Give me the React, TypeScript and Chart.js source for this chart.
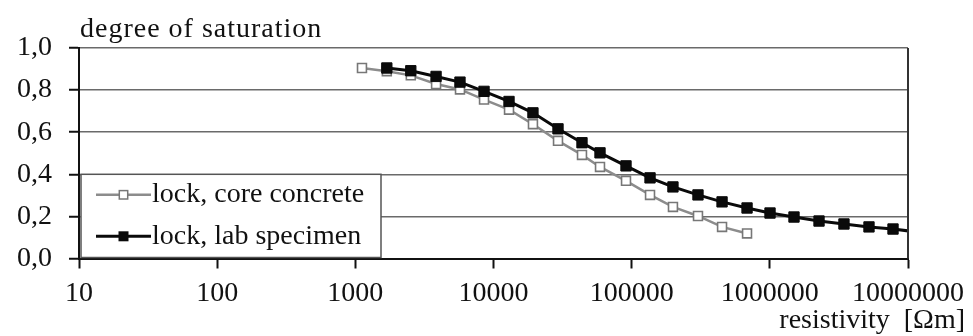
import React, { useEffect, useRef } from 'react';
import { Chart, registerables } from 'chart.js';

Chart.register(...registerables);

// ---- data ----
const xTickValues = [10, 100, 1000, 10000, 100000, 1000000, 10000000];
const yTickValues = [0, 0.2, 0.4, 0.6, 0.8, 1.0];

const seriesNames = ['lock, core concrete', 'lock, lab specimen'];

const coreResistivity = [1117, 1690, 2520, 3840, 5720, 8540, 12950, 19300, 29300, 43700, 59000, 91000, 135800, 199000, 302000, 451000, 684000];
const coreSaturation = [0.905, 0.89, 0.87, 0.829, 0.803, 0.755, 0.707, 0.638, 0.559, 0.492, 0.435, 0.369, 0.302, 0.245, 0.202, 0.15, 0.119];

const labResistivity = [1690, 2520, 3840, 5720, 8540, 12950, 19300, 29300, 43700, 59000, 91000, 135800, 199000, 302000, 451000, 684000, 1003000, 1496000, 2270000, 3440000, 5220000, 7790000, 11600000];
const labSaturation = [0.905, 0.892, 0.865, 0.838, 0.794, 0.746, 0.692, 0.616, 0.55, 0.502, 0.44, 0.383, 0.34, 0.302, 0.269, 0.24, 0.216, 0.197, 0.178, 0.164, 0.15, 0.14, 0.126];

const yAxisTitle = 'degree of saturation';
const xAxisTitle = 'resistivity  [Ωm]';

const FONT = '"Liberation Serif", "Times New Roman", serif';
const TEXT = '#111';
const CORE_LINE = '#8c8c8c';
const CORE_MARK = '#777';
const LAB = '#0a0a0a';

const decorPlugin = {
  id: 'decor',
  afterDraw(chart: any) {
    const { ctx, chartArea: a, scales } = chart;
    const ys = scales.y;
    ctx.save();
    // right frame line
    ctx.strokeStyle = '#333';
    ctx.lineWidth = 2;
    ctx.beginPath();
    ctx.moveTo(a.right, a.top);
    ctx.lineTo(a.right, a.bottom);
    ctx.stroke();

    // axis titles
    ctx.fillStyle = TEXT;
    ctx.font = `28px ${FONT}`;
    ctx.textBaseline = 'alphabetic';
    ctx.textAlign = 'left';
    (ctx as any).letterSpacing = '1px';
    ctx.fillText(yAxisTitle, a.left + 1, a.top - 11);
    (ctx as any).letterSpacing = '0px';
    ctx.textAlign = 'right';
    ctx.fillText(xAxisTitle, chart.width - 8, chart.height - 8);

    // legend box
    const boxTop = ys.getPixelForValue(0.4);
    const boxLeft = a.left + 2;
    const boxRight = a.left + 302;
    const boxBottom = a.bottom - 1;
    ctx.fillStyle = '#fff';
    ctx.fillRect(boxLeft, boxTop, boxRight - boxLeft, boxBottom - boxTop);
    ctx.strokeStyle = '#555';
    ctx.lineWidth = 1.5;
    ctx.strokeRect(boxLeft, boxTop, boxRight - boxLeft, boxBottom - boxTop);

    const rows = [boxTop + 20.5, boxTop + 62];
    const x0 = a.left + 17;
    const x1 = a.left + 72;
    const mx = (x0 + x1) / 2;
    // row 1: core concrete
    ctx.strokeStyle = CORE_LINE;
    ctx.lineWidth = 2.5;
    ctx.beginPath();
    ctx.moveTo(x0, rows[0]);
    ctx.lineTo(x1, rows[0]);
    ctx.stroke();
    ctx.fillStyle = '#fff';
    ctx.fillRect(mx - 4.2, rows[0] - 4.2, 8.4, 8.4);
    ctx.strokeStyle = CORE_MARK;
    ctx.lineWidth = 1.5;
    ctx.strokeRect(mx - 4.2, rows[0] - 4.2, 8.4, 8.4);
    // row 2: lab specimen
    ctx.strokeStyle = LAB;
    ctx.lineWidth = 3;
    ctx.beginPath();
    ctx.moveTo(x0, rows[1]);
    ctx.lineTo(x1, rows[1]);
    ctx.stroke();
    ctx.fillStyle = LAB;
    ctx.fillRect(mx - 5, rows[1] - 5, 10, 10);

    ctx.fillStyle = TEXT;
    ctx.font = `28px ${FONT}`;
    ctx.textAlign = 'left';
    ctx.textBaseline = 'middle';
    ctx.fillText(seriesNames[0], x1 + 1, rows[0]);
    ctx.fillText(seriesNames[1], x1 + 1, rows[1]);
    ctx.restore();
  },
};

export default function App() {
  const ref = useRef<HTMLCanvasElement | null>(null);

  useEffect(() => {
    if (!ref.current) return;
    const chart = new Chart(ref.current, {
      type: 'line',
      data: {
        datasets: [
          {
            label: seriesNames[0],
            data: coreResistivity.map((x, i) => ({ x, y: coreSaturation[i] })),
            borderColor: CORE_LINE,
            borderWidth: 2.5,
            pointStyle: 'rect',
            pointRadius: 6.3,
            pointBackgroundColor: '#fff',
            pointBorderColor: CORE_MARK,
            pointBorderWidth: 1.6,
            tension: 0,
            order: 2,
            clip: 0,
          },
          {
            label: seriesNames[1],
            data: labResistivity.map((x, i) => ({ x, y: labSaturation[i] })),
            borderColor: LAB,
            borderWidth: 3,
            pointStyle: 'rect',
            pointRadius: 7.3,
            pointBackgroundColor: LAB,
            pointBorderColor: LAB,
            pointBorderWidth: 1,
            tension: 0,
            order: 1,
            clip: 0,
          },
        ],
      } as any,
      options: {
        responsive: false,
        animation: false,
        layout: { padding: { left: 0, right: 65, top: 48, bottom: 0 } },
        plugins: {
          legend: { display: false },
          tooltip: { enabled: false },
          title: { display: false },
        },
        scales: {
          x: {
            type: 'logarithmic',
            min: 10,
            max: 10000000,
            afterBuildTicks: (s: any) => {
              s.ticks = xTickValues.map((v) => ({ value: v }));
            },
            afterFit: (s: any) => {
              s.height = 77.5;
            },
            grid: {
              drawOnChartArea: false,
              drawTicks: true,
              tickLength: 10,
              tickWidth: 2,
              tickColor: '#111',
            },
            border: { color: '#111', width: 2 },
            ticks: {
              autoSkip: false,
              maxRotation: 0,
              minRotation: 0,
              padding: 8,
              color: TEXT,
              font: { family: FONT, size: 28 },
              callback: (v: any) => String(v),
            },
          },
          y: {
            min: 0,
            max: 1,
            afterBuildTicks: (s: any) => {
              s.ticks = yTickValues.map((v) => ({ value: v }));
            },
            afterFit: (s: any) => {
              s.width = 79;
            },
            grid: {
              color: '#6a6a6a',
              lineWidth: 1.5,
              tickLength: 10,
              tickWidth: 2,
              tickColor: '#111',
            },
            border: { color: '#111', width: 2 },
            ticks: {
              padding: 17,
              color: TEXT,
              font: { family: FONT, size: 28 },
              callback: (v: any) => Number(v).toFixed(1).replace('.', ','),
            },
          },
        },
      } as any,
      plugins: [decorPlugin],
    });
    return () => chart.destroy();
  }, []);

  return (
    <div style={{ position: 'absolute', left: 0, top: 0, width: 973, height: 336, background: '#fff' }}>
      <canvas ref={ref} width={973} height={336} style={{ display: 'block', width: 973, height: 336 }} />
    </div>
  );
}
